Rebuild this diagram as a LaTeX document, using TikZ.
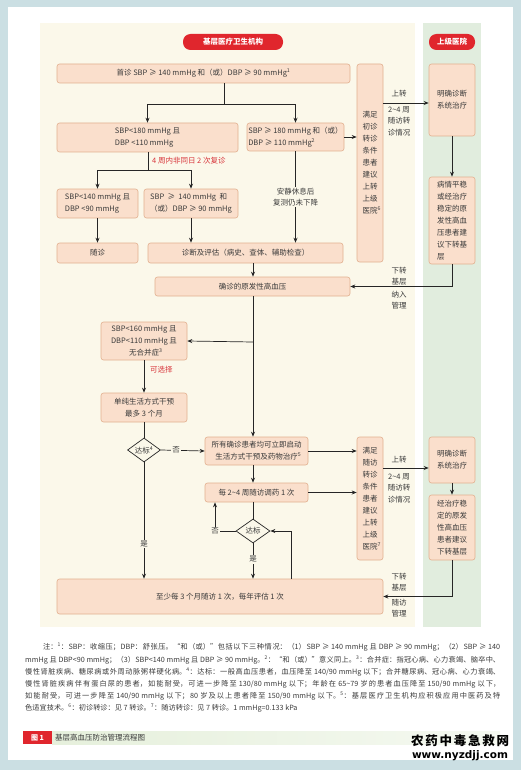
\documentclass[tikz,border=0pt]{standalone}
\usepackage{fontspec}
\setmainfont{Noto Sans CJK SC}
\newfontfamily\urlfnt{DejaVu Sans}
\usetikzlibrary{arrows.meta,shapes.geometric}
\definecolor{bluebg}{HTML}{CBDFE3}
\definecolor{cream}{HTML}{FBF8EA}
\definecolor{greenbg}{HTML}{E1EDDE}
\definecolor{boxfill}{HTML}{FADFCC}
\definecolor{boxline}{HTML}{E2B08F}
\definecolor{linec}{HTML}{262626}
\definecolor{txt}{HTML}{3A3A3A}
\definecolor{redc}{HTML}{E0262D}
\definecolor{redtxt}{HTML}{D8343A}
\definecolor{capgreen}{HTML}{E6F0DC}
\newcommand{\boxfnt}{\fontsize{7.5}{12}\selectfont}
\newcommand{\hdfnt}{\fontsize{7.5}{9}\selectfont\bfseries}
\newcommand{\notefnt}{\fontsize{7.2}{12.2}\selectfont}
\XeTeXlinebreaklocale "zh"
\XeTeXlinebreakskip=0pt plus 1.5pt minus 0.2pt
\begin{document}
\begin{tikzpicture}[x=1pt,y=-1pt,
  box/.style={draw=boxline, fill=boxfill, rounded corners=2.5pt, inner sep=0pt, align=center, text=txt, font=\boxfnt, line width=0.6pt},
  dia/.style={diamond, draw=linec, fill=cream, inner sep=0pt, line width=0.7pt, text=txt, font=\boxfnt},
  arr/.style={draw=linec, line width=0.7pt, -{Stealth[length=5pt,width=4pt]}},
  ln/.style={draw=linec, line width=0.7pt},
  lab/.style={text=txt, font=\fontsize{7.5}{11.5}\selectfont, align=center, inner sep=1pt},
  redlab/.style={text=redtxt, font=\boxfnt, inner sep=0pt},
  pill/.style={fill=redc, rounded corners=7.5pt, text=white, font=\hdfnt, inner sep=0pt},
]
% backgrounds
\fill[bluebg] (0,0) rectangle (521,770);
\fill[white] (8,7) rectangle (513,760);
\fill[cream] (40,23) rectangle (415,627);
\fill[greenbg] (423,23) rectangle (481,627);
\useasboundingbox (0,0) rectangle (521,770);

% headers
\node[pill, minimum width=100pt, minimum height=16pt] (h1) at (233,42) {基层医疗卫生机构};
\node[pill, minimum width=46pt, minimum height=16pt] (h2) at (452,42) {上级医院};

% left boxes
\node[box, minimum width=293pt, minimum height=19pt] (b1) at (203.5,73.5) {首诊 SBP ≥ 140 mmHg 和（或）DBP ≥ 90 mmHg\textsuperscript{1}};
\node[box, align=left, minimum width=181pt, minimum height=29pt] (b2L) at (147.5,137.5) {SBP<180 mmHg 且\\DBP <110 mmHg};
\node[box, align=left, minimum width=97pt, minimum height=28pt] (b2R) at (295.5,137) {SBP ≥ 180 mmHg 和（或）\\DBP ≥ 110 mmHg\textsuperscript{2}};
\node[box, align=left, minimum width=81pt, minimum height=29pt] (b3a) at (97.5,203.5) {SBP<140 mmHg 且\\DBP <90 mmHg};
\node[box, align=left, minimum width=94pt, minimum height=29pt] (b3b) at (191,203.5) {SBP\ \ ≥\ \ 140 mmHg\ \ 和\\（或）DBP ≥ 90 mmHg};
\node[box, minimum width=81pt, minimum height=20pt] (b4a) at (97.5,253) {随诊};
\node[box, minimum width=195pt, minimum height=20pt] (b4b) at (245.5,253) {诊断及评估（病史、查体、辅助检查）};
\node[box, minimum width=195pt, minimum height=19pt] (b5) at (252.5,286.5) {确诊的原发性高血压};
\node[box, minimum width=86pt, minimum height=38pt] (b6) at (144,341) {SBP<160 mmHg 且\\DBP<110 mmHg 且\\无合并症\rlap{\textsuperscript{3}}};
\node[box, minimum width=86pt, minimum height=29pt] (b7) at (144,407.5) {单纯生活方式干预\\最多 3 个月};
\node[dia, minimum width=33pt, minimum height=24pt] (d1) at (144,450) {\makebox[0pt]{达标\textsuperscript{4}}};
\node[box, minimum width=103pt, minimum height=28pt] (b8) at (256.5,451) {所有确诊患者均可立即启动\\生活方式干预及药物治疗\rlap{\textsuperscript{5}}};
\node[box, minimum width=103pt, minimum height=19pt] (b9) at (256.5,492.5) {每 2\textasciitilde4 周随访调药 1 次};
\node[dia, minimum width=34pt, minimum height=24pt] (d2) at (253,531) {\makebox[0pt]{达标}};
\node[box, minimum width=326pt, minimum height=35pt] (b10) at (220,596.5) {至少每 3 个月随访 1 次，每年评估 1 次};

% tall referral boxes
\node[box, minimum width=26pt, minimum height=198pt] (T1) at (370,163) {满足\\初诊\\转诊\\条件\\患者\\建议\\上转\\上级\\医院\rlap{\textsuperscript{6}}};
\node[box, minimum width=26pt, minimum height=123pt] (T2) at (370,498.5) {满足\\随访\\转诊\\条件\\患者\\建议\\上转\\上级\\医院\rlap{\textsuperscript{7}}};

% upper-level hospital boxes
\node[box, minimum width=46pt, minimum height=72pt] (G1) at (452,100) {明确诊断\\系统治疗};
\node[box, minimum width=46pt, minimum height=87pt, align=left] (G2) at (452,220.5) {病情平稳\\或经治疗\\稳定的原\\发性高血\\压患者建\\议下转基\\层};
\node[box, minimum width=46pt, minimum height=46pt] (G3) at (452,460) {明确诊断\\系统治疗};
\node[box, minimum width=46pt, minimum height=65pt] (G4) at (452,527.5) {经治疗稳\\定的原发\\性高血压\\患者建议\\下转基层};

% helper coordinates
\coordinate (j1) at (224,104);
\coordinate (j2) at (148,170);
\coordinate (cx) at (253,342);
\coordinate (n2) at (215,531);
\coordinate (r2) at (291,531);
\coordinate (u1) at (400,103);
\coordinate (u2) at (400,468);

% connectors
\draw[ln] (b1.south -| j1) -- (j1);
\draw[arr] (j1) -| (b2L.north);
\draw[arr] (j1) -| (b2R.north);
\draw[ln] (b2L.south -| j2) -- (j2);
\draw[arr] (j2) -| (b3a.north);
\draw[arr] (j2) -| (b3b.north);
\node[redlab, anchor=west] (rl1) at (152,161) {4 周内非同日 2 次复诊};
\draw[arr] (b3a.south) -- (b3a.south |- b4a.north);
\draw[arr] (b3b.south) -- (b3b.south |- b4b.north);
\draw[arr] (b2R.south) -- node[lab, fill=cream] (rest) {安静休息后\\复测仍未下降} (b2R.south |- b4b.north);
\draw[arr] (b2R.east) -- (b2R.east -| T1.west);
\draw[arr] (b4b.south -| cx) -- (b5.north -| cx);
\draw[arr] (b5.south -| cx) -- (b8.north -| cx);
\draw[arr] (cx) -- (b6.east);
\draw[arr] (b6.south) -- (b7.north);
\node[redlab, anchor=west] (rl2) at (150,370) {可选择};
\draw[ln] (b7.south) -- (d1.north);
\draw[arr] (d1.east) -- node[lab, fill=cream, pos=0.35] (no1) {否} (b8.west);
\draw[arr] (d1.south) -- node[lab, fill=cream, pos=0.7] (yes1) {是} (d1.south |- b10.north);
\draw[arr] (b8.south -| cx) -- (b9.north -| cx);
\draw[arr] (b8.east) -- (b8.east -| T2.west);
\draw[arr] (b9.east) -- (b9.east -| T2.west);
\draw[ln] (b9.south -| cx) -- (d2.north);
\draw[arr] (d2.south) -- node[lab, fill=cream, pos=0.45] (yes2) {是} (d2.south |- b10.north);
\draw[arr] (d2.west) -| (b9.south -| n2);
\node[lab, fill=cream] (no2) at (n2) {否};
\draw[arr] (b10.north -| r2) |- (d2.east);

% referrals to upper level
\draw[arr] (T1.east |- u1) -- (G1.west |- u1);
\node[lab] (up1) at (399,94) {上转};
\node[lab, anchor=north] (up1b) at (399,105) {2\textasciitilde4 周\\随访转\\诊情况};
\draw[arr] (G1.south) -- (G2.north);
\draw[arr] (G2.south) |- (b5.east);
\node[lab] (dn1) at (399,276) {下转\\基层};
\node[lab] (dn1b) at (399,300) {纳入\\管理};

\draw[arr] (T2.east |- u2) -- (G3.west |- u2);
\node[lab] (up2) at (399,460) {上转};
\node[lab, anchor=north] (up2b) at (399,472) {2\textasciitilde4 周\\随访转\\诊情况};
\draw[arr] (G3.south) -- (G4.north);
\draw[arr] (G4.south) |- (b10.east);
\node[lab] (dn2) at (399,582) {下转\\基层};
\node[lab] (dn2b) at (399,608) {随访\\管理};

% notes
\node[anchor=north west, text width=475pt, inner sep=0pt, font=\notefnt, text=txt, align=justify] (notes) at (25,643) {\hspace*{18pt}注：\textsuperscript{1}：SBP：收缩压；DBP：舒张压。“和（或）”包括以下三种情况：（1）SBP ≥ 140 mmHg 且 DBP ≥ 90 mmHg；（2）SBP ≥ 140\linebreak mmHg 且 DBP<90 mmHg；（3）SBP<140 mmHg 且 DBP ≥ 90 mmHg。\textsuperscript{2}：“和（或）”意义同上。\textsuperscript{3}：合并症：指冠心病、心力衰竭、脑卒中、\linebreak 慢性肾脏疾病、糖尿病或外周动脉粥样硬化病。\textsuperscript{4}：达标：一般高血压患者，血压降至 140/90 mmHg 以下；合并糖尿病、冠心病、心力衰竭、\linebreak 慢性肾脏疾病伴有蛋白尿的患者，如能耐受，可进一步降至 130/80 mmHg 以下；年龄在 65\textasciitilde79 岁的患者血压降至 150/90 mmHg 以下，\linebreak 如能耐受，可进一步降至 140/90 mmHg 以下；80 岁及以上患者降至 150/90 mmHg 以下。\textsuperscript{5}：基层医疗卫生机构应积极应用中医药及特\linebreak 色适宜技术。\textsuperscript{6}：初诊转诊：见 7 转诊。\textsuperscript{7}：随访转诊：见 7 转诊。1 mmHg=0.133 kPa};

% caption
\shade[left color=capgreen, right color=capgreen!40!white] (52,731) rectangle (500,744);
\fill[redc] (23,731) rectangle (52,744);
\node[text=white, font=\fontsize{7}{8}\selectfont\bfseries, inner sep=0pt] (fig) at (37.5,737.5) {图 1};
\node[anchor=west, text=txt, font=\fontsize{7.5}{9}\selectfont, inner sep=0pt] (cap) at (55,737.5) {基层高血压防治管理流程图};

% watermark
\node[anchor=center, font=\fontsize{12.5}{14}\selectfont\bfseries, inner sep=0pt] (wm1) at (460,741) {\makebox[98pt][s]{农\hfill 药\hfill 中\hfill 毒\hfill 急\hfill 救\hfill 网}};
\node[anchor=center, font=\urlfnt\fontsize{10.5}{12}\selectfont\bfseries, inner sep=0pt] (wm2) at (460,756) {www.nyzdjj.com};
\end{tikzpicture}
\end{document}
